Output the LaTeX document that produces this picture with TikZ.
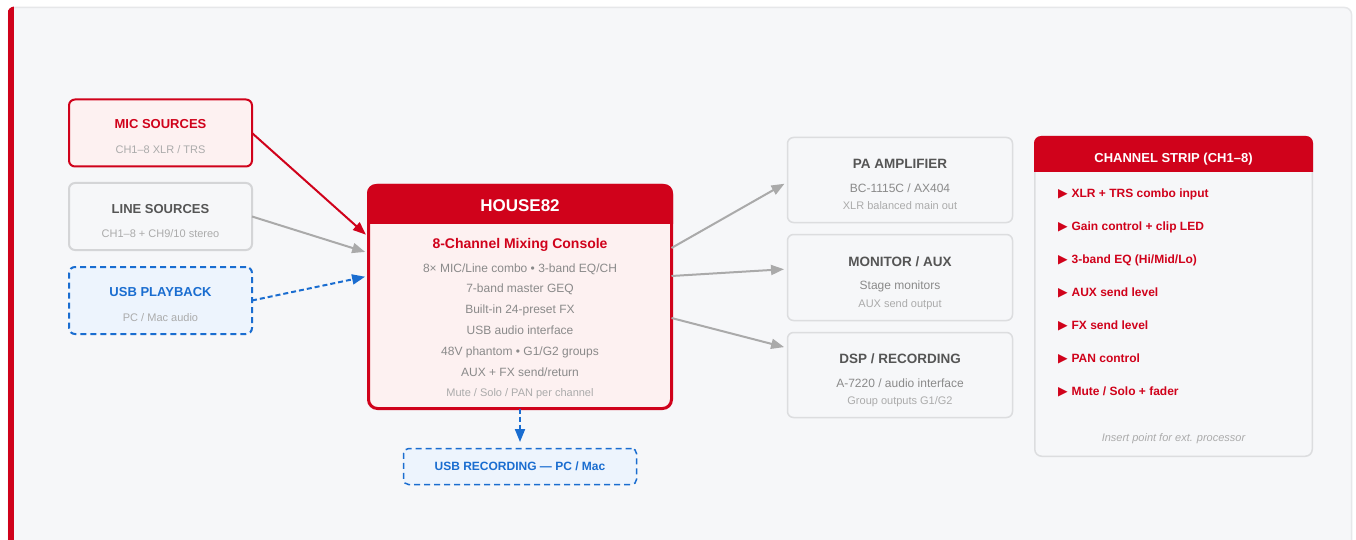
\documentclass[tikz,border=0pt]{standalone}
\usepackage{fontspec}
\setmainfont{Liberation Sans}
\newfontfamily\symfont{DejaVu Sans}
\usetikzlibrary{arrows.meta}

\definecolor{mixred}{HTML}{D0021B}
\definecolor{pinkfill}{HTML}{FDF1F1}
\definecolor{usbblue}{HTML}{1A6DD0}
\definecolor{usbfill}{HTML}{EDF4FD}
\definecolor{bgpanel}{HTML}{F6F7F9}
\definecolor{framegray}{HTML}{E6E7E9}
\definecolor{boxgray}{HTML}{DCDDDF}
\definecolor{linegray}{HTML}{D4D5D7}
\definecolor{darktext}{HTML}{555555}
\definecolor{midtext}{HTML}{8A8A8A}
\definecolor{lighttext}{HTML}{ABABAB}
\definecolor{arrowgray}{HTML}{AAAAAA}

\newcommand{\fsz}[1]{\fontsize{#1}{#1}\selectfont}

\begin{document}
\begin{tikzpicture}[
        x=1pt, y=-1pt,
        every node/.style={inner sep=0pt, outer sep=0pt},
        txt/.style={anchor=mid, yshift=-2.5pt},
        ttl/.style={txt, font=\bfseries\fsz{13}},
        sub/.style={txt, font=\fsz{11}, text=lighttext},
        srcbox/.style={draw, rounded corners=6pt, line width=2pt, minimum width=183pt, minimum height=67pt},
        usbbox/.style={draw=usbblue, fill=usbfill, dash pattern=on 6pt off 4pt},
        outbox/.style={draw=boxgray, fill=bgpanel, rounded corners=6pt, line width=1.5pt, minimum width=225pt},
        outttl/.style={txt, font=\bfseries\fsz{13.5}, text=darktext},
        outsub/.style={txt, font=\fsz{12}, text=midtext},
        arr/.style={line width=2pt, -{Triangle[length=13pt,width=10pt]}},
        usbarr/.style={arr, usbblue, dash pattern=on 5pt off 3pt}
    ]
        \useasboundingbox (0,0) rectangle (1356,540);
        \clip (0,0) rectangle (1356,540);
        \fill[white] (0,0) rectangle (1356,540);
        \draw[framegray, fill=bgpanel, line width=1.5pt, rounded corners=7pt] (8.5,7.5) rectangle (1351.5,580);
        \begin{scope}
            \clip[rounded corners=7pt] (7.5,6.5) rectangle (1352,580);
            \fill[mixred] (7.5,0) rectangle (13.5,580);
        \end{scope}

        \node[srcbox, draw=mixred, fill=pinkfill] (mic) at (160.5,133) {};
        \node[srcbox, draw=linegray, fill=bgpanel] (line) at (160.5,216.5) {};
        \node[srcbox, usbbox] (usbin) at (160.5,300.5) {};
        \node[ttl, text=mixred] (micT) at (160.5,123) {MIC SOURCES};
        \node[sub] (micS) at (160.5,148) {CH1–8 XLR / TRS};
        \node[ttl, text=darktext] (lineT) at (160.5,208) {LINE SOURCES};
        \node[sub] (lineS) at (160.5,232) {CH1–8 + CH9/10 stereo};
        \node[ttl, text=usbblue] (usbinT) at (160.5,291) {USB PLAYBACK};
        \node[sub] (usbinS) at (160.5,316) {PC / Mac audio};

        \node[draw=mixred, fill=pinkfill, line width=3pt, rounded corners=9pt, minimum width=303pt, minimum height=223pt] (console) at (520,297) {};
        \begin{scope}
            \clip (360,180) rectangle (680,223);
            \fill[mixred, rounded corners=9pt] (367,184) rectangle (673,260);
        \end{scope}
        \node[txt, text=white, font=\bfseries\fsz{17}] (consoleT) at (520,206) {HOUSE82};
        \node[txt, text=mixred, font=\bfseries\fsz{14}] (consoleS) at (520,243) {8-Channel Mixing Console};
        \foreach \feat [count=\i] in {8× MIC/Line combo • 3-band EQ/CH, 7-band master GEQ, Built-in 24-preset FX, USB audio interface, 48V phantom • G1/G2 groups, AUX + FX send/return}
            \node[txt, text=midtext, font=\fsz{12}] (feat\i) at (520,{267+(\i-1)*20.8}) {\feat};
        \node[sub] (consoleN) at (520,391) {Mute / Solo / PAN per channel};

        \node[usbbox, line width=1.5pt, rounded corners=5pt, minimum width=233pt, minimum height=36pt, text=usbblue, font=\bfseries\fsz{12}] (usbout) at (520,466.5) {\raisebox{-1.5pt}{USB RECORDING — PC / Mac}};

        \node[outbox, minimum height=85pt] (pa) at (900,180) {};
        \node[outbox, minimum height=86pt] (mon) at (900,277.5) {};
        \node[outbox, minimum height=85pt] (dsp) at (900,375) {};
        \node[outttl] (paT) at (900,163) {PA AMPLIFIER};
        \node[outsub] (paS) at (900,187) {BC-1115C / AX404};
        \node[sub] (paN) at (900,204) {XLR balanced main out};
        \node[outttl] (monT) at (900,261) {MONITOR / AUX};
        \node[outsub] (monS) at (900,284) {Stage monitors};
        \node[sub] (monN) at (900,302) {AUX send output};
        \node[outttl] (dspT) at (900,358) {DSP / RECORDING};
        \node[outsub] (dspS) at (900,382) {A-7220 / audio interface};
        \node[sub] (dspN) at (900,399) {Group outputs G1/G2};

        \node[draw=boxgray, fill=bgpanel, line width=1.5pt, rounded corners=7pt, minimum width=277.5pt, minimum height=319.5pt] (strip) at (1173.5,296.5) {};
        \begin{scope}
            \clip (1030,130) rectangle (1320,172);
            \fill[mixred, rounded corners=7pt] (1034,136) rectangle (1313,220);
        \end{scope}
        \node[txt, text=white, font=\bfseries\fsz{13}] (stripT) at (1173.5,157) {CHANNEL STRIP (CH1–8)};
        \foreach \ctl [count=\i] in {XLR + TRS combo input, Gain control + clip LED, 3-band EQ (Hi/Mid/Lo), AUX send level, FX send level, PAN control, Mute / Solo + fader}
            \node[anchor=mid west, yshift=-2.5pt, text=mixred, font=\bfseries\fsz{12}] (ctl\i) at (1058,{192+(\i-1)*33.1}) {{\symfont\fsz{12.5}▶}\hspace{4pt}\ctl};
        \node[txt, text=lighttext, font=\itshape\fsz{11}] (stripN) at (1173.5,436) {Insert point for ext. processor};

        \draw[arr, mixred, shorten >=3.5pt] (mic.east) -- ([yshift=60pt]console.west);
        \draw[arr, arrowgray, shorten >=3.5pt] (line.east) -- ([yshift=44pt]console.west);
        \draw[usbarr, shorten >=3.5pt] (usbin.east) -- ([yshift=21pt]console.west);
        \draw[arr, arrowgray, shorten >=3.5pt] ([yshift=49pt]console.east) -- ([yshift=-2pt]pa.west);
        \draw[arr, arrowgray, shorten >=3.5pt] ([yshift=21pt]console.east) -- ([yshift=8.5pt]mon.west);
        \draw[arr, arrowgray, shorten >=3.5pt] ([yshift=-21pt]console.east) -- ([yshift=27pt]dsp.west);
        \draw[usbarr, shorten >=6.5pt] (console.south) -- (usbout.north);
    \end{tikzpicture}
\end{document}
